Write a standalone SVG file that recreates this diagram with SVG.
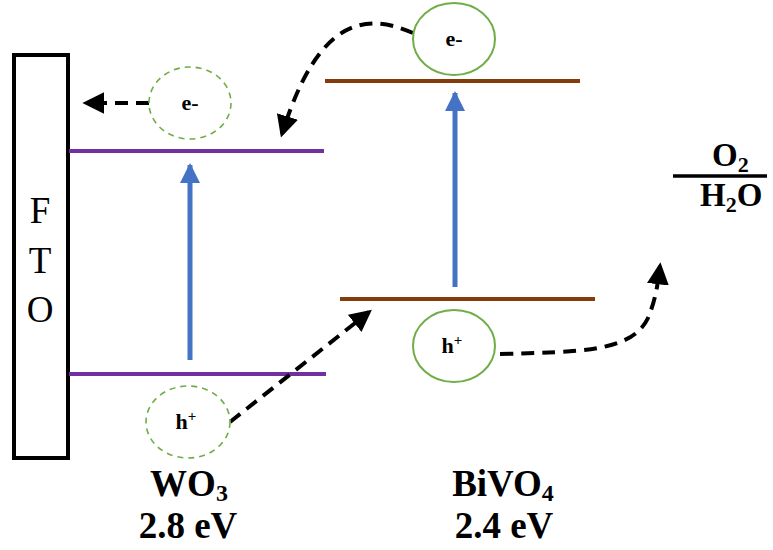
<svg xmlns="http://www.w3.org/2000/svg" width="773" height="550" viewBox="0 0 773 550">
<defs>
<style>
.lvlW{stroke:#7030A0;stroke-width:4;fill:none}
.lvlB{stroke:#843C0C;stroke-width:4;fill:none}
.exc{stroke:#4472C4;stroke-width:5;fill:none}
.dash{stroke:#000;stroke-width:4;fill:none;stroke-dasharray:13 8}
.cdash{fill:#fff;stroke:#70AD47;stroke-width:1.6;stroke-dasharray:6 5}
.csol{fill:#fff;stroke:#70AD47;stroke-width:2}
.lab{font-family:'Liberation Serif','Times New Roman',serif;font-weight:bold;font-size:22px;fill:#000;text-anchor:middle}
.big{font-family:'Liberation Serif','Times New Roman',serif;font-weight:bold;font-size:37px;fill:#000;text-anchor:middle}
.fto{font-family:'Liberation Serif','Times New Roman',serif;font-size:37px;fill:#000;text-anchor:middle}
.rx{font-family:'Liberation Serif','Times New Roman',serif;font-weight:bold;font-size:33px;fill:#000}
</style>
<marker id="ah" markerUnits="userSpaceOnUse" markerWidth="22" markerHeight="22" refX="15" refY="9" orient="auto" viewBox="0 0 18 18">
<path d="M0,0 L18,9 L0,18 Z" fill="#000"/>
</marker>
<marker id="bh" markerUnits="userSpaceOnUse" markerWidth="20" markerHeight="20" refX="18" refY="10" orient="auto" viewBox="0 0 20 20">
<path d="M0,0 L20,10 L0,20 Z" fill="#4472C4"/>
</marker>
</defs>
<rect width="773" height="550" fill="#fff"/>

<g id="fto">
<rect x="14" y="55" width="54" height="403" fill="#fff" stroke="#000" stroke-width="4"/>
<text class="fto" x="40" y="223">F</text>
<text class="fto" x="40" y="273">T</text>
<text class="fto" x="40" y="322">O</text>
</g>

<g id="wo3">
<line class="lvlW" x1="69" y1="151" x2="324" y2="151"/>
<line class="lvlW" x1="69" y1="374" x2="326" y2="374"/>
<text class="big" x="189" y="496">WO<tspan font-size="24" dy="5">3</tspan></text>
<text class="big" x="188" y="538">2.8 eV</text>
</g>

<g id="bivo4">
<line class="lvlB" x1="325" y1="81" x2="580" y2="81"/>
<line class="lvlB" x1="340" y1="299" x2="595" y2="299"/>
<text class="big" x="503" y="496">BiVO<tspan font-size="24" dy="5">4</tspan></text>
<text class="big" x="504" y="538">2.4 eV</text>
</g>

<g id="redox">
<line x1="673" y1="176" x2="767" y2="176" stroke="#000" stroke-width="3.5"/>
<text class="rx" x="712" y="166">O<tspan font-size="22" dy="6">2</tspan></text>
<text class="rx" x="700" y="206">H<tspan font-size="22" dy="6">2</tspan><tspan dy="-6">O</tspan></text>
</g>

<g id="connectors">
<line class="exc" x1="190" y1="360" x2="190" y2="165" marker-end="url(#bh)"/>
<line class="exc" x1="455" y1="287" x2="455" y2="93" marker-end="url(#bh)"/>
<line class="dash" x1="149" y1="103" x2="86" y2="103" marker-end="url(#ah)"/>
<line class="dash" x1="230" y1="422" x2="369" y2="312" marker-end="url(#ah)"/>
<path class="dash" d="M413,33 C365,12 318,18 282,134" marker-end="url(#ah)"/>
<path class="dash" d="M500,354 C580,352 632,352 648,318 C654,303 657,292 660,266" marker-end="url(#ah)"/>
</g>

<g id="e-wo3">
<ellipse class="cdash" cx="190" cy="103" rx="41" ry="36"/>
<text class="lab" x="190" y="110">e-</text>
</g>
<g id="h-wo3">
<ellipse class="cdash" cx="188" cy="422" rx="42" ry="36"/>
<text class="lab" x="186" y="429">h<tspan font-size="15" dy="-8">+</tspan></text>
</g>
<g id="e-bivo4">
<ellipse class="csol" cx="454" cy="39" rx="41" ry="36"/>
<text class="lab" x="454" y="46">e-</text>
</g>
<g id="h-bivo4">
<ellipse class="csol" cx="454" cy="346" rx="41" ry="36"/>
<text class="lab" x="452" y="353">h<tspan font-size="15" dy="-8">+</tspan></text>
</g>
</svg>
